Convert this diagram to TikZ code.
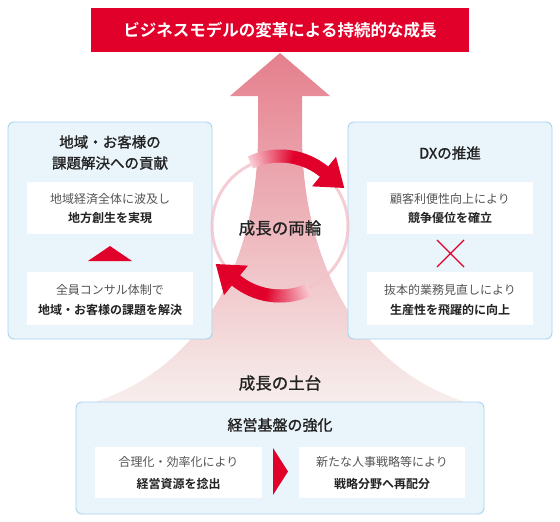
\documentclass[tikz,border=0pt]{standalone}
\usepackage{fontspec}
\setmainfont{Noto Sans CJK JP}[BoldFont={Noto Sans CJK JP Bold}]
\newfontfamily\jpmedium{Noto Sans CJK JP}[FakeBold=1.2]
\definecolor{brandred}{HTML}{E0002A}
\definecolor{boxfill}{HTML}{EAF4FB}
\definecolor{boxline}{HTML}{A9D4EE}
\definecolor{txt}{HTML}{222222}
\definecolor{subtxt}{HTML}{555555}
\definecolor{ringpink}{HTML}{F2C2CA}
\definecolor{fantop}{HTML}{E57F8D}
\definecolor{fanmid}{HTML}{F0BBBD}
\definecolor{fanbot}{HTML}{F7EFED}
\tikzset{
  panel/.style={draw=boxline, fill=boxfill, line width=0.9pt, rounded corners=6pt},
  whitebox/.style={fill=white, draw=none},
  headtxt/.style={font=\jpmedium\fontsize{14.5}{21}\selectfont, text=txt, align=center},
  subtxt/.style={font=\fontsize{12}{14}\selectfont, text=subtxt},
  strongtxt/.style={font=\bfseries\fontsize{12}{14}\selectfont, text=txt},
  bigtxt/.style={font=\jpmedium\fontsize{16.5}{20}\selectfont, text=txt},
  redmark/.style={fill=brandred, draw=none},
}
\begin{document}
\begin{tikzpicture}[x=1pt,y=-1pt]
\useasboundingbox[fill=white] (0,0) rectangle (560,522);

% big growth arrow with flared base
\shade[top color=fantop, middle color=fanmid, bottom color=fanbot]
  (280,53) -- (330,96) -- (302,96) -- (302,140)
  .. controls (304,265) and (360,372) .. (472,404)
  -- (88,404)
  .. controls (200,372) and (256,265) .. (258,140)
  -- (258,96) -- (230,96) -- cycle;

% banner
\node[fill=brandred, minimum width=378, minimum height=44, inner sep=0pt,
      font=\bfseries\fontsize{16.5}{20}\selectfont, text=white] (banner) at (280,30)
  {ビジネスモデルの変革による持続的な成長};

% left panel
\node[panel, minimum width=204, minimum height=217] (leftpanel) at (110,230.5) {};
\node[headtxt] (lefthead) at (110,152.5) {地域・お客様の\\課題解決への貢献};
\node[whitebox, minimum width=166, minimum height=52] (lbox1) at (110,208) {};
\node[subtxt] (lb1a) at (110,199) {地域経済全体に波及し};
\node[strongtxt] (lb1b) at (110,218) {地方創生を実現};
\path[redmark] (110,246) -- (132,261) -- (88,261) -- cycle;
\node[whitebox, minimum width=166, minimum height=53] (lbox2) at (110,298.5) {};
\node[subtxt] (lb2a) at (110,290) {全員コンサル体制で};
\node[strongtxt] (lb2b) at (110,310) {地域・お客様の課題を解決};

% right panel
\node[panel, minimum width=204, minimum height=217] (rightpanel) at (450,230.5) {};
\node[headtxt] (righthead) at (450,153) {DXの推進};
\node[whitebox, minimum width=166, minimum height=52] (rbox1) at (450,208) {};
\node[subtxt] (rb1a) at (450,199) {顧客利便性向上により};
\node[strongtxt] (rb1b) at (450,218) {競争優位を確立};
\draw[brandred, line width=1.4pt] (437,240) -- (464,267) (437,267) -- (464,240);
\node[whitebox, minimum width=166, minimum height=53] (rbox2) at (450,298.5) {};
\node[subtxt] (rb2a) at (450,290) {抜本的業務見直しにより};
\node[strongtxt] (rb2b) at (450,310) {生産性を飛躍的に向上};

% ring
\draw[ringpink, line width=3pt, opacity=0.8] (280,226) circle[radius=68pt];

% circular arrows
\foreach \a in {115,114,...,51}{
  \pgfmathsetmacro{\p}{min(100,20+80*(115-\a)/36)}
  \pgfmathsetmacro{\b}{\a-1.4}
  \draw[line width=13pt, brandred!\p!white]
    ({280+70*cos(\a)},{226-70*sin(\a)}) -- ({280+70*cos(\b)},{226-70*sin(\b)});
}
\foreach \a in {295,294,...,231}{
  \pgfmathsetmacro{\p}{min(100,20+80*(295-\a)/36)}
  \pgfmathsetmacro{\b}{\a-1.4}
  \draw[line width=13pt, brandred!\p!white]
    ({280+70*cos(\a)},{226-70*sin(\a)}) -- ({280+70*cos(\b)},{226-70*sin(\b)});
}
\path[redmark] ({280+89*cos(51)},{226-89*sin(51)}) -- ({280+51*cos(51)},{226-51*sin(51)})
  -- ({280+70*cos(51)+26*sin(51)},{226-70*sin(51)+26*cos(51)}) -- cycle;
\path[redmark] ({280+89*cos(231)},{226-89*sin(231)}) -- ({280+51*cos(231)},{226-51*sin(231)})
  -- ({280+70*cos(231)+26*sin(231)},{226-70*sin(231)+26*cos(231)}) -- cycle;
\node[bigtxt] (wheels) at (280,228) {成長の両輪};

% foundation
\node[bigtxt] (base) at (280,383) {成長の土台};
\node[panel, minimum width=408, minimum height=112] (bottompanel) at (280,458) {};
\node[headtxt, font=\jpmedium\fontsize{15}{20}\selectfont] (bottomhead) at (280,425) {経営基盤の強化};
\node[whitebox, minimum width=167, minimum height=51] (bbox1) at (178.5,472.5) {};
\node[subtxt] (bb1a) at (178.5,462) {合理化・効率化により};
\node[strongtxt] (bb1b) at (178.5,484) {経営資源を捻出};
\path[redmark] (273,448) -- (288,471.5) -- (273,495) -- cycle;
\node[whitebox, minimum width=166, minimum height=51] (bbox2) at (382,472.5) {};
\node[subtxt] (bb2a) at (382,462) {新たな人事戦略等により};
\node[strongtxt] (bb2b) at (382,484) {戦略分野へ再配分};
\end{tikzpicture}
\end{document}
